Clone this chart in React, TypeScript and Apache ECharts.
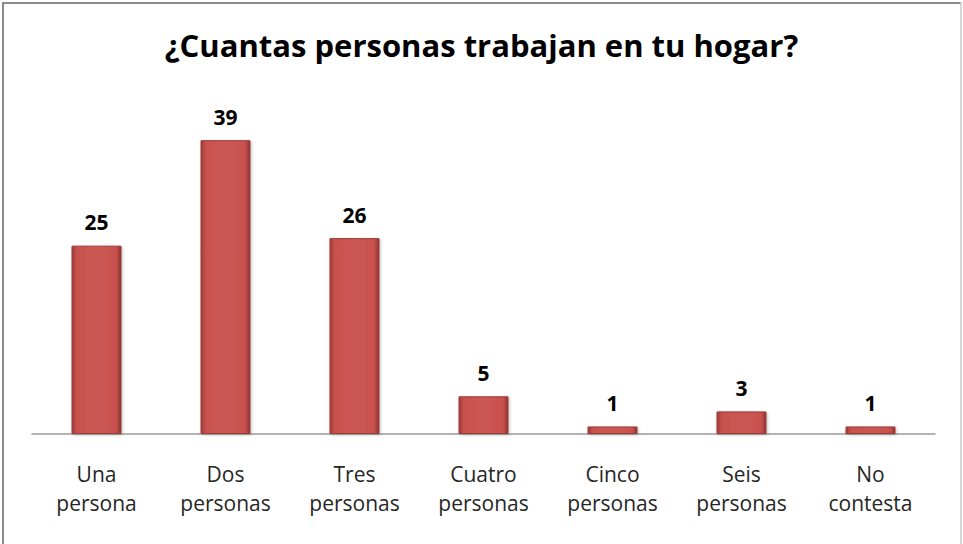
import React, { useEffect, useRef } from "react";
import * as echarts from "echarts";

const categories = ["Una\npersona", "Dos\npersonas", "Tres\npersonas", "Cuatro\npersonas", "Cinco\npersonas", "Seis\npersonas", "No\ncontesta"];
const values = [25, 39, 26, 5, 1, 3, 1];
const titleText = "¿Cuantas personas trabajan en tu hogar?";

export default function App() {
  const ref = useRef<HTMLDivElement>(null);
  useEffect(() => {
    document.body.style.margin = "0";
    const chart = echarts.init(ref.current!, null, { renderer: "svg" });
    chart.setOption({
      animation: false,
      backgroundColor: "#ffffff",
      title: {
        text: titleText,
        left: "center",
        top: 24,
        textStyle: { fontFamily: "Open Sans", fontSize: 31, fontWeight: "bold", color: "#000" },
      },
      grid: { left: 32, right: 28, top: 95, bottom: 110 },
      xAxis: {
        type: "category",
        data: categories,
        axisLine: { lineStyle: { color: "#9a9a9a", width: 1.5 } },
        axisTick: { show: false },
        axisLabel: {
          margin: 25,
          fontFamily: "Open Sans",
          fontSize: 21,
          lineHeight: 29,
          color: "#262626",
          interval: 0,
        },
      },
      yAxis: { type: "value", min: 0, max: 45, show: false, splitLine: { show: false } },
      series: [
        {
          type: "bar",
          data: values,
          barWidth: 50,
          itemStyle: {
            color: new echarts.graphic.LinearGradient(0, 0, 1, 0, [
              { offset: 0, color: "#9e3c39" },
              { offset: 0.1, color: "#c9514e" },
              { offset: 0.5, color: "#cd5754" },
              { offset: 0.9, color: "#c9514e" },
              { offset: 1, color: "#8e3533" },
            ]),
            borderColor: "#9a3a37",
            borderWidth: 1,
            shadowColor: "rgba(0,0,0,0.25)",
            shadowBlur: 3,
            shadowOffsetX: 1,
            shadowOffsetY: 1,
          },
          label: {
            show: true,
            position: "top",
            distance: 13,
            fontFamily: "Open Sans",
            fontSize: 21,
            fontWeight: "bold",
            color: "#000",
          },
        },
      ],
      graphic: [
        { type: "line", shape: { x1: 3, y1: 2, x2: 3, y2: 544 }, style: { stroke: "#8a8a8a", lineWidth: 2 } },
        { type: "line", shape: { x1: 2, y1: 3, x2: 961, y2: 3 }, style: { stroke: "#8a8a8a", lineWidth: 2 } },
        { type: "line", shape: { x1: 961, y1: 2, x2: 961, y2: 544 }, style: { stroke: "#c8c8c8", lineWidth: 1.5 } },
      ],
    });
    return () => chart.dispose();
  }, []);
  return <div ref={ref} style={{ width: 963, height: 544 }} />;
}
